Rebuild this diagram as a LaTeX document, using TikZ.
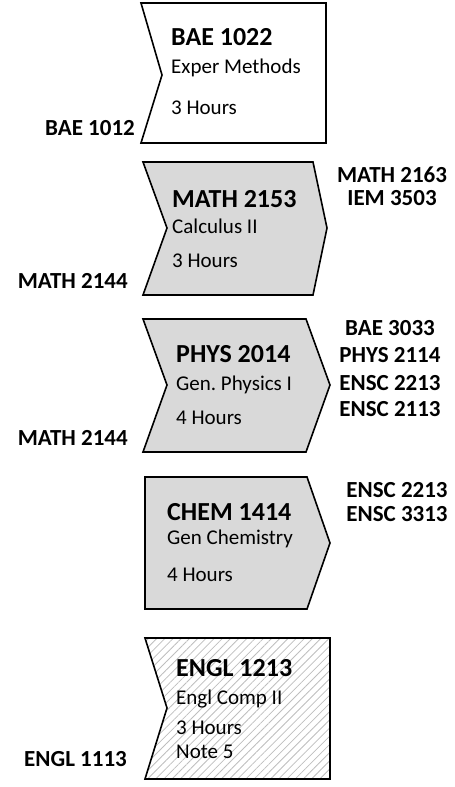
\documentclass[tikz,border=0pt]{standalone}
\usepackage{fontspec}
\setmainfont{Carlito}
\usepackage{xcolor}
\usetikzlibrary{patterns.meta}
\definecolor{boxgray}{RGB}{217,217,217}
\definecolor{hatchgray}{RGB}{190,190,190}
\frenchspacing

\begin{document}
\begin{tikzpicture}[x=1pt, y=-1pt,
  course/.style={line width=1.6pt, line join=miter},
  code/.style={anchor=base west, inner sep=0pt, font=\fontsize{26}{30}\selectfont\bfseries},
  info/.style={anchor=base west, inner sep=0pt, font=\fontsize{21}{24}\selectfont},
  prereq/.style={anchor=base east, inner sep=0pt, font=\fontsize{23}{27}\selectfont\bfseries},
  follow/.style={anchor=base, inner sep=0pt, font=\fontsize{23}{27}\selectfont\bfseries}]
\useasboundingbox (0,0) rectangle (455,787);
% BAE 1022 (white, notch only)
\draw[course, fill=white] (141,3) -- (326,3) -- (326,143) -- (141,143) -- (162,75) -- cycle;
\node[code] (bae1022) at (171,45) {BAE 1022};
\node[info] (bae1022t) at (171,73) {Exper Methods};
\node[info] (bae1022h) at (171,114) {3 Hours};
\node[prereq] (bae1012) at (135,135) {BAE 1012};
% MATH 2153 (chevron)
\draw[course, fill=boxgray] (143,162) -- (313,162) -- (327,228) -- (313,295) -- (143,295) -- (167,228) -- cycle;
\node[code] (math2153) at (172,207) {MATH 2153};
\node[info] (math2153t) at (172,233) {Calculus II};
\node[info] (math2153h) at (172,267) {3 Hours};
\node[prereq] (math2144a) at (128,288) {MATH 2144};
\foreach \y/\l in {182/MATH 2163, 205/IEM 3503} {
    \node[follow] at (392,\y) {\l};
}
% PHYS 2014 (chevron)
\draw[course, fill=boxgray] (143,319) -- (306,319) -- (330,385) -- (306,452) -- (143,452) -- (167,385) -- cycle;
\node[code] (phys2014) at (176,362) {PHYS 2014};
\node[info] (phys2014t) at (176,390) {Gen. Physics I};
\node[info] (phys2014h) at (176,424) {4 Hours};
\node[prereq] (math2144b) at (128,445) {MATH 2144};
\foreach \y/\l in {335/BAE 3033, 362/PHYS 2114, 390/ENSC 2213, 416/ENSC 2113} {
    \node[follow] at (390,\y) {\l};
}
% CHEM 1414 (point only)
\draw[course, fill=boxgray] (145,477) -- (307,477) -- (330,543) -- (307,609) -- (145,609) -- cycle;
\node[code] (chem1414) at (167,520) {CHEM 1414};
\node[info] (chem1414t) at (167,544) {Gen Chemistry};
\node[info] (chem1414h) at (167,581) {4 Hours};
\foreach \y/\l in {497/ENSC 2213, 521/ENSC 3313} {
    \node[follow] at (397,\y) {\l};
}
% ENGL 1213 (hatched, notch only)
\draw[course, pattern={Lines[angle=45, distance=5.8pt, line width=0.8pt]}, pattern color=hatchgray]
    (145,638) -- (330,638) -- (330,779) -- (145,779) -- (167,708) -- cycle;
\node[code] (engl1213) at (176,676) {ENGL 1213};
\node[info] (engl1213t) at (176,704) {Engl Comp II};
\node[info] (engl1213h) at (176,734) {3 Hours};
\node[info] (engl1213n) at (176,758) {Note 5};
\node[prereq] (engl1113) at (127,766) {ENGL 1113};
\end{tikzpicture}
\end{document}
